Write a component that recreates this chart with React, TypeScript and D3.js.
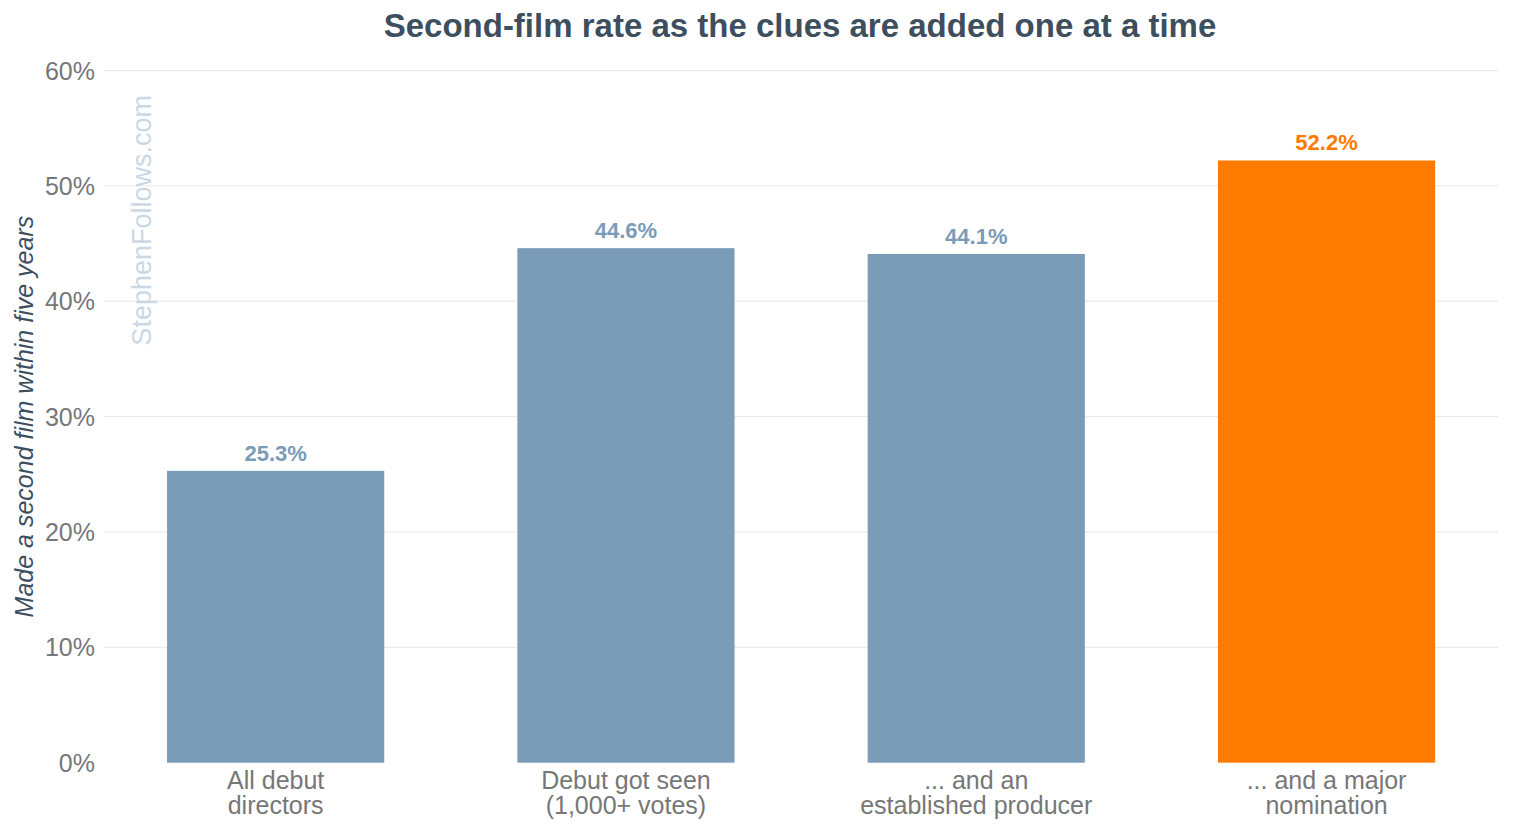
import * as d3 from 'd3'

const categories = [
  ['All debut', 'directors'],
  ['Debut got seen', '(1,000+ votes)'],
  ['... and an', 'established producer'],
  ['... and a major', 'nomination'],
]
const rates = [25.3, 44.6, 44.1, 52.2]
const highlighted = [false, false, false, true]
const yTicks = [0, 10, 20, 30, 40, 50, 60]

const width = 1497
const height = 819
const font = '"Liberation Sans", Arial, sans-serif'
const blue = '#7a9cb8'
const orange = '#ff7b00'

export default function App() {
  const x = d3
    .scaleBand<number>()
    .domain(d3.range(categories.length))
    .range([92.5, 1493.7])
    .paddingInner(0.38)
    .paddingOuter(0.19)
  const y = d3.scaleLinear([0, 60], [754.7, 62.5])

  return (
    <svg width={width} height={height} style={{ display: 'block', fontFamily: font }}>
      <text
        x={792}
        y={29}
        textAnchor="middle"
        fontSize={33}
        fontWeight="bold"
        fill="#3d4f5f"
      >
        Second-film rate as the clues are added one at a time
      </text>

      {/* grid + y ticks */}
      {yTicks.map((t) => (
        <g key={t}>
          {t > 0 && (
            <line x1={96} x2={1490} y1={y(t)} y2={y(t)} stroke="#e6e6e6" strokeWidth={1} />
          )}
          <text
            x={87}
            y={y(t)}
            dy="0.36em"
            textAnchor="end"
            fontSize={25}
            fill="#777"
          >
            {t}%
          </text>
        </g>
      ))}

      <text
        transform={`translate(25,${y(30)}) rotate(-90)`}
        textAnchor="middle"
        fontSize={25}
        fontStyle="italic"
        fill="#3d4f5f"
      >
        Made a second film within five years
      </text>

      <text
        transform={`translate(143,87) rotate(-90)`}
        textAnchor="end"
        fontSize={27}
        fill="#cbd8e3"
      >
        StephenFollows.com
      </text>

      {rates.map((v, i) => {
        const c = highlighted[i] ? orange : blue
        const cx = x(i)! + x.bandwidth() / 2
        return (
          <g key={i}>
            <rect x={x(i)} y={y(v)} width={x.bandwidth()} height={y(0) - y(v)} fill={c} />
            <text
              x={cx}
              y={y(v) - 10}
              textAnchor="middle"
              fontSize={22}
              fontWeight="bold"
              fill={c}
            >
              {v.toFixed(1)}%
            </text>
            {categories[i].map((line, j) => (
              <text
                key={j}
                x={cx}
                y={y(0) + 26.5 + j * 25}
                textAnchor="middle"
                fontSize={25}
                fill="#777"
              >
                {line}
              </text>
            ))}
          </g>
        )
      })}
    </svg>
  )
}
